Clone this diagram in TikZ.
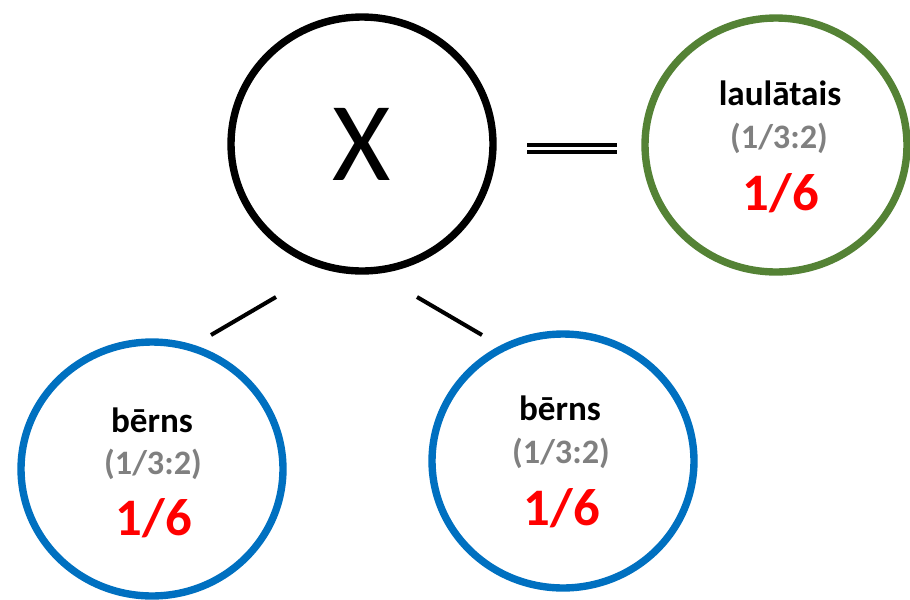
\documentclass[tikz,border=0pt]{standalone}
\usepackage{fontspec}
\setmainfont{Carlito}
\usetikzlibrary{shapes.geometric}
\definecolor{kidblue}{HTML}{0070C0}
\definecolor{spousegreen}{HTML}{548235}
\definecolor{ratiogray}{HTML}{808080}

\begin{document}
\begin{tikzpicture}[x=0.02cm, y=-0.02cm]
    \tikzstyle{person}=[ellipse, draw=black, line width=4.2pt, minimum width=5.24cm, minimum height=5.08cm, inner sep=0pt]
    \tikzstyle{kid}=[person, draw=kidblue]
    \tikzstyle{spouse}=[person, draw=spousegreen]
    \tikzstyle{who}=[anchor=base, font=\fontsize{20}{24}\selectfont\bfseries]
    \tikzstyle{ratio}=[anchor=base, text=ratiogray, font=\fontsize{19.5}{24}\selectfont\bfseries]
    \tikzstyle{share}=[anchor=base, text=red, font=\fontsize{30}{36}\selectfont\bfseries]
    \tikzstyle{branch}=[line width=2.3pt]

    \useasboundingbox (0,0) rectangle (910,599);

    % the deceased and the spouse
    \node[person, font=\fontsize{64}{70}\selectfont] (X) at (362,144) {X};
    \node[spouse] (S) at (776,145) {};
    \node[who] (S-who) at (780,105) {laulātais};
    \node[ratio] (S-ratio) at (779,148) {(1/3:2)};
    \node[share] (S-share) at (781,210) {1/6};

    % the children
    \node[kid] (K-1) at (152,469) {};
    \node[who] (K-1-who) at (152,432) {bērns};
    \node[ratio] (K-1-ratio) at (153,474) {(1/3:2)};
    \node[share] (K-1-share) at (154,535) {1/6};

    \node[kid] (K-2) at (563,461) {};
    \node[who] (K-2-who) at (560,420) {bērns};
    \node[ratio] (K-2-ratio) at (561,463) {(1/3:2)};
    \node[share] (K-2-share) at (562,525) {1/6};

    % marriage and descent
    \coordinate (M-l) at (527,148.5);
    \coordinate (M-r) at (617,148.5);
    \draw[line width=2.2pt, double, double distance=1.6pt] (M-l) -- (M-r);

    \coordinate (D-1a) at (276,297);
    \coordinate (D-1b) at (211,335);
    \coordinate (D-2a) at (417,297);
    \coordinate (D-2b) at (482,335);
    \draw[branch] (D-1a) -- (D-1b);
    \draw[branch] (D-2a) -- (D-2b);
\end{tikzpicture}
\end{document}
